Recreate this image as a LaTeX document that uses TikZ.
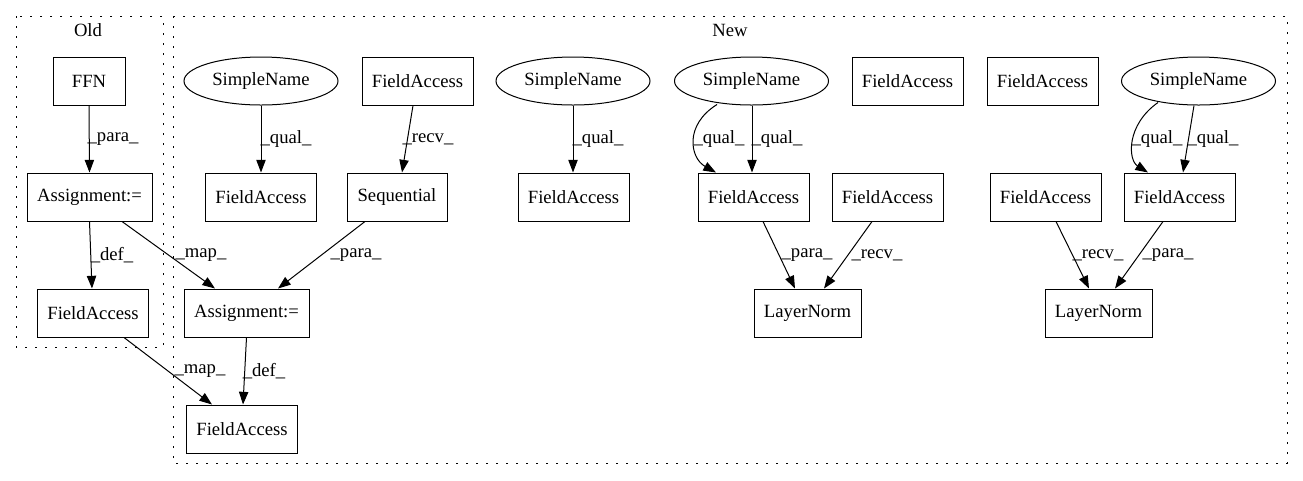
\documentclass[tikz,border=0pt]{standalone}
\usepackage{fontspec}
\setmainfont{Liberation Serif}
\usetikzlibrary{arrows.meta,calc,shapes.geometric}
\begin{document}
\begin{tikzpicture}[x=0.75pt,y=-0.75pt,
  every node/.style={font=\fontsize{14pt}{16pt}\selectfont},
  box/.style={draw,line width=0.75pt,rectangle,inner sep=0pt,minimum height=36pt},
  fa/.style={box,minimum width=83.25pt},
  asg/.style={box,minimum width=93.75pt},
  sname/.style={draw,line width=0.75pt,ellipse,inner sep=0pt,minimum width=115.5pt,minimum height=36pt},
  cluster/.style={draw,line width=0.75pt,dash pattern=on 1.5pt off 6pt},
  edge/.style={draw,line width=0.75pt,-{Triangle[length=9.5pt,width=7pt]}},
  lbl/.style={inner sep=0pt}]
\useasboundingbox (0,0) rectangle (1303,480);
% clusters
\draw[cluster] (16,16) rectangle (163,347);
\node[lbl] (oldlbl) at (88,30) {Old};
\draw[cluster] (173,16) rectangle (1287,463);
\node[lbl] (newlbl) at (730,30) {New};
% Old nodes
\node[box,minimum width=54pt] (ffn) at (89,81) {FFN};
\node[asg] (aold) at (89.5,197) {Assignment:=};
\node[fa] (fold) at (93,313) {FieldAccess};
% New nodes
\node[sname] (s1) at (261,81) {SimpleName};
\node[fa] (fa1) at (261,197) {FieldAccess};
\node[fa] (ftop) at (417.5,81) {FieldAccess};
\node[box,minimum width=75pt] (seq) at (397,197) {Sequential};
\node[asg] (anew) at (246.5,313) {Assignment:=};
\node[fa] (fbot) at (242,429) {FieldAccess};
\node[sname] (s2) at (573,81) {SimpleName};
\node[fa] (fa2) at (573.5,197) {FieldAccess};
\node[sname] (s3) at (751.5,81) {SimpleName};
\node[fa] (fa3) at (753.5,197) {FieldAccess};
\node[fa] (fa4) at (887.5,197) {FieldAccess};
\node[box,minimum width=80.25pt] (ln1) at (807.5,313) {LayerNorm};
\node[fa] (iso1) at (907.5,81) {FieldAccess};
\node[fa] (iso2) at (1042.5,81) {FieldAccess};
\node[sname] (s4) at (1198.5,81) {SimpleName};
\node[fa] (fa5) at (1045.5,197) {FieldAccess};
\node[fa] (fa6) at (1179.5,197) {FieldAccess};
\node[box,minimum width=80.25pt] (ln2) at (1098.5,313) {LayerNorm};
% edges
\draw[edge] (ffn.south) -- (aold.north);
\node[lbl] (l1) at (113,139) {\_para\_};
\draw[edge] (aold.south) -- ($(fold.north)+(-1,0)$);
\node[lbl] (l2) at (112,255) {\_def\_};
\draw[edge] ($(aold.south)+(32.5,0)$) -- ($(anew.north)+(-31.5,0)$);
\node[lbl] (l3) at (201,255) {\_map\_};
\draw[edge] ($(fold.south)+(31,0)$) -- ($(fbot.north)+(-30,0)$);
\node[lbl] (l4) at (200,371) {\_map\_};
\draw[edge] (anew.south) -- ($(fbot.north)+(1,0)$);
\node[lbl] (l5) at (264,371) {\_def\_};
\draw[edge] ($(seq.south)+(-32,0)$) -- ($(anew.north)+(31.5,0)$);
\node[lbl] (l6) at (356,255) {\_para\_};
\draw[edge] ($(ftop.south)+(-4.5,0)$) -- ($(seq.north)+(5,0)$);
\node[lbl] (l7) at (428,139) {\_recv\_};
\draw[edge] (s1.south) -- (fa1.north);
\node[lbl] (l8) at (286,139) {\_qual\_};
\draw[edge] (s2.south) -- ($(fa2.north)+(-0.5,0)$);
\node[lbl] (l9) at (598,139) {\_qual\_};
\draw[edge] ($(s3.south)+(-34.5,-1)$) .. controls (684,125) and (690,158) .. ($(fa3.north)+(-37.5,0)$);
\node[lbl] (l10) at (719,139) {\_qual\_};
\draw[edge] ($(s3.south)+(0.5,0)$) -- ($(fa3.north)+(-1.5,0)$);
\node[lbl] (l11) at (777,139) {\_qual\_};
\draw[edge] ($(fa3.south)+(9.5,0)$) -- ($(ln1.north)+(-12.5,0)$);
\node[lbl] (l12) at (807,255) {\_para\_};
\draw[edge] ($(fa4.south)+(-15.5,0)$) -- ($(ln1.north)+(16.5,0)$);
\node[lbl] (l13) at (877,255) {\_recv\_};
\draw[edge] ($(fa5.south)+(10.5,0)$) -- ($(ln2.north)+(-9.5,0)$);
\node[lbl] (l14) at (1098,255) {\_recv\_};
\draw[edge] ($(fa6.south)+(-16.5,0)$) -- ($(ln2.north)+(16.5,0)$);
\node[lbl] (l15) at (1168,255) {\_para\_};
\draw[edge] ($(s4.south)+(-40.5,-3)$) .. controls (1126,125) and (1128,160) .. ($(fa6.north)+(-31.5,0)$);
\node[lbl] (l16) at (1157,139) {\_qual\_};
\draw[edge] ($(s4.south)+(-4.5,0)$) -- ($(fa6.north)+(3.5,0)$);
\node[lbl] (l17) at (1213,139) {\_qual\_};
\end{tikzpicture}
\end{document}
